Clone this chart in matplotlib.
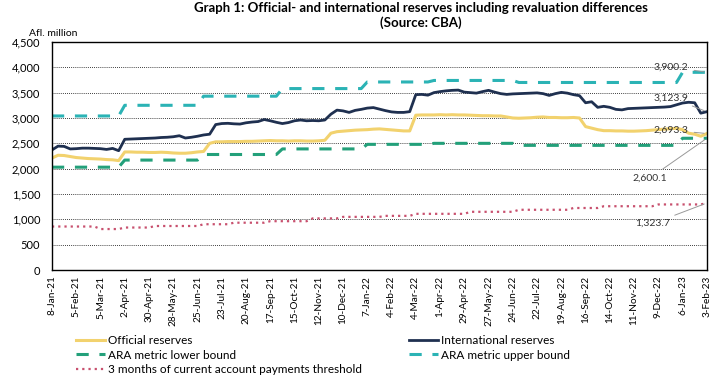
import numpy as np
import pandas as pd
import matplotlib
matplotlib.use("Agg")
import matplotlib.pyplot as plt
from matplotlib.ticker import FuncFormatter, MultipleLocator

plt.rcParams["font.family"] = ["Lato", "DejaVu Sans"]

# Weekly observations, 8-Jan-21 .. 3-Feb-23 (Afl. million)
dates = pd.date_range("2021-01-08", periods=109, freq="7D")

official = [
    2210, 2265, 2260, 2240, 2220, 2210, 2200, 2195, 2190, 2180, 2175, 2160,
    2330, 2330, 2325, 2325, 2320, 2320, 2325, 2320, 2310, 2305, 2305, 2315, 2330, 2340,
    2500, 2530, 2530, 2535, 2535, 2535, 2540, 2540, 2545, 2550, 2555, 2550, 2550, 2545,
    2550, 2550, 2545, 2545, 2550, 2560,
    2700, 2730, 2740, 2750, 2760, 2765, 2770, 2780, 2785, 2775, 2765, 2755, 2745, 2745,
    3055, 3060, 3060, 3060, 3065, 3060, 3065, 3060, 3060, 3055, 3050, 3045, 3045, 3040,
    3040, 3020, 3000, 2995, 3000, 3005, 3015, 3020, 3010, 3010, 3005, 3005, 3010, 3000,
    2830, 2800, 2770, 2750, 2750, 2745, 2745, 2740, 2740, 2745, 2750, 2760, 2770, 2780,
    2790, 2795, 2770, 2700, 2680, 2640, 2693.3,
]

international = [
    2370, 2445, 2440, 2390, 2395, 2405, 2405, 2400, 2395, 2380, 2400, 2355,
    2580, 2585, 2590, 2595, 2600, 2605, 2615, 2620, 2630, 2650, 2605, 2620, 2640, 2665, 2680,
    2870, 2890, 2895, 2885, 2880, 2905, 2920, 2930, 2970, 2945, 2915, 2890, 2910, 2945,
    2960, 2945, 2950, 2945, 2960,
    3075, 3155, 3140, 3110, 3150, 3170, 3195, 3205, 3175, 3145, 3120, 3110, 3110, 3125,
    3460, 3465, 3450, 3500, 3520, 3535, 3545, 3550, 3510, 3500, 3490, 3520, 3545, 3510,
    3480, 3465, 3475, 3480, 3485, 3490, 3495, 3480, 3445, 3480, 3505, 3490, 3460, 3440,
    3300, 3320, 3210, 3230, 3210, 3170, 3160, 3185, 3190, 3195, 3200, 3205, 3210, 3215,
    3225, 3260, 3295, 3310, 3300, 3095, 3123.9,
]

ara_lower = [
    2030, 2030, 2030, 2030, 2030, 2030, 2030, 2030, 2030, 2030, 2030, 2030,
    2170, 2170, 2170, 2170, 2170, 2170, 2170, 2170, 2170, 2170, 2170, 2170, 2170,
    2280, 2280, 2280, 2280, 2280, 2280, 2280, 2280, 2280, 2280, 2280, 2280, 2280,
    2390, 2390, 2390, 2390, 2390, 2390, 2390, 2390, 2390, 2390, 2390, 2390, 2390, 2390,
    2480, 2480, 2480, 2480, 2480, 2480, 2480, 2480, 2480, 2480, 2480,
    2500, 2500, 2500, 2500, 2500, 2500, 2500, 2500, 2500, 2500, 2500, 2500, 2500, 2500,
    2460, 2460, 2460, 2460, 2460, 2460, 2460, 2460, 2460, 2460, 2460, 2460, 2460, 2460,
    2460, 2460, 2460, 2460, 2460, 2460, 2460, 2460, 2460, 2460, 2460, 2460, 2460,
    2600.1, 2600.1, 2600.1, 2600.1, 2600.1,
]

ara_upper = [
    3040, 3040, 3040, 3040, 3040, 3040, 3040, 3040, 3040, 3040, 3040, 3040,
    3250, 3250, 3250, 3250, 3250, 3250, 3250, 3250, 3250, 3250, 3250, 3250, 3250,
    3430, 3430, 3430, 3430, 3430, 3430, 3430, 3430, 3430, 3430, 3430, 3430, 3430,
    3580, 3580, 3580, 3580, 3580, 3580, 3580, 3580, 3580, 3580, 3580, 3580, 3580, 3580,
    3710, 3710, 3710, 3710, 3710, 3710, 3710, 3710, 3710, 3710, 3710,
    3740, 3740, 3740, 3740, 3740, 3740, 3740, 3740, 3740, 3740, 3740, 3740, 3740, 3740,
    3700, 3700, 3700, 3700, 3700, 3700, 3700, 3700, 3700, 3700, 3700, 3700, 3700, 3700,
    3700, 3700, 3700, 3700, 3700, 3700, 3700, 3700, 3700, 3700, 3700, 3700, 3700,
    3900.2, 3900.2, 3900.2, 3900.2, 3900.2,
]

threshold = [
    860, 860, 860, 860, 860, 860, 860, 860, 810, 810, 810, 810,
    840, 840, 840, 840, 840, 870, 870, 870, 870, 870, 870, 870, 870,
    905, 905, 905, 905, 905, 935, 935, 935, 935, 935, 935,
    965, 965, 965, 965, 965, 965, 965, 1020, 1020, 1020, 1020, 1020,
    1050, 1050, 1050, 1050, 1050, 1050, 1050, 1070, 1070, 1070, 1070, 1070,
    1110, 1110, 1110, 1110, 1110, 1110, 1110, 1110, 1110,
    1150, 1150, 1150, 1150, 1150, 1150, 1150, 1150,
    1190, 1190, 1190, 1190, 1190, 1190, 1190, 1190, 1190,
    1225, 1225, 1225, 1225, 1225,
    1260, 1260, 1260, 1260, 1260, 1260, 1260, 1260, 1260,
    1295, 1295, 1295, 1295, 1295, 1295, 1295, 1295, 1323.7,
]

x = np.arange(len(dates))
tick_idx = x[::4]
tick_labels = [f"{d.day}-{d.strftime('%b-%y')}" for d in dates[::4]]

fig = plt.figure(figsize=(7.22, 3.81), dpi=100)
ax = fig.add_axes([0.072, 0.291, 0.907, 0.599])

ax.plot(x, ara_upper, color="#2bb3b5", lw=2.2, dashes=(4.0, 3.5), label="ARA metric upper bound")
ax.plot(x, ara_lower, color="#23a07a", lw=2.2, dashes=(4.0, 3.5), label="ARA metric lower bound")
ax.plot(x, official, color="#f2d26e", lw=2.2, label="Official reserves")
ax.plot(x, international, color="#1f3050", lw=2.0, label="International reserves")
ax.plot(x, threshold, color="#c8506e", lw=1.6, dashes=(1, 1.8),
        label="3 months of current account payments threshold")

ax.set_xlim(0, len(x) - 1)
ax.set_ylim(0, 4500)
ax.yaxis.set_major_locator(MultipleLocator(500))
ax.yaxis.set_major_formatter(FuncFormatter(lambda v, p: f"{v:,.0f}"))
ax.set_xticks(tick_idx)
ax.set_xticklabels(tick_labels, rotation=90, fontsize=7.2)
ax.tick_params(axis="y", labelsize=8, length=0, pad=8.5)
ax.tick_params(axis="x", length=0, pad=4)
ax.grid(axis="y", color="black", linestyle=(0, (1, 1.5)), lw=0.6)
ax.set_axisbelow(True)
for s in ax.spines.values():
    s.set_linewidth(1.0)

fig.text(0.04, 0.913, "Afl. million", fontsize=7.5, ha="left", va="center")
fig.text(0.583, 0.995, "Graph 1: Official- and international reserves including revaluation differences\n(Source: CBA)",
         fontsize=9.5, fontweight="bold", ha="center", va="top", linespacing=1.2)

# end-point labels
last = len(x) - 1
ann = dict(arrowprops=dict(arrowstyle="-", color="#999999", lw=0.7), fontsize=7.5,
           color="#333333", ha="right", va="center")
ax.annotate(f"{ara_upper[-1]:,.1f}", xy=(last, ara_upper[-1]), xytext=(last - 3, 4010), **ann)
ax.annotate(f"{international[-1]:,.1f}", xy=(last, international[-1]), xytext=(last - 3, 3400), **ann)
ax.annotate(f"{official[-1]:,.1f}", xy=(last, official[-1]), xytext=(last - 3, 2760), **ann)
ax.annotate(f"{ara_lower[-1]:,.1f}", xy=(last, ara_lower[-1]), xytext=(last - 6.5, 1820), **ann)
ax.annotate(f"{threshold[-1]:,.1f}", xy=(last, threshold[-1]), xytext=(last - 6, 920), **ann)

h, l = ax.get_legend_handles_labels()
order_left = [2, 1, 4]
order_right = [3, 0]
leg_kw = dict(frameon=False, fontsize=8.5, handlelength=2.5, handletextpad=0.25,
              labelspacing=0.28, borderaxespad=0, borderpad=0)
fig.legend([h[i] for i in order_left], [l[i] for i in order_left], loc="upper left",
           bbox_to_anchor=(0.105, 0.12), **leg_kw)
fig.legend([h[i] for i in order_right], [l[i] for i in order_right], loc="upper left",
           bbox_to_anchor=(0.566, 0.12), **leg_kw)

fig.savefig("out.png", dpi=100)
